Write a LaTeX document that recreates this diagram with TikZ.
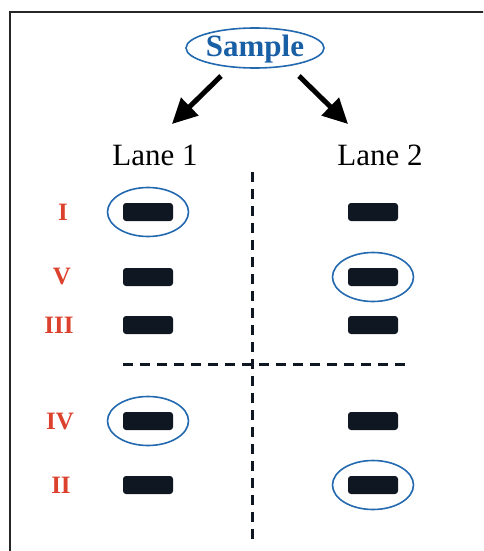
\documentclass[tikz,border=0pt]{standalone}
\usepackage{fontspec}
\setmainfont{Liberation Serif}
\usetikzlibrary{arrows.meta,shapes.geometric}
\definecolor{ringblue}{RGB}{35,105,175}
\definecolor{textblue}{RGB}{25,95,165}
\definecolor{labred}{RGB}{220,65,45}
\definecolor{bandink}{RGB}{15,24,34}
\tikzset{
  band/.style={fill=bandink,rounded corners=3pt,minimum width=50pt,minimum height=18pt,inner sep=0pt},
  ring/.style={draw=ringblue,line width=1.6pt,ellipse,minimum width=81pt,minimum height=49pt,inner sep=0pt},
  roman/.style={text=labred,font=\bfseries\fontsize{25}{25}\selectfont,inner sep=0pt},
  lanelabel/.style={font=\fontsize{31}{31}\selectfont,inner sep=0pt},
  bigarrow/.style={line width=5pt,-{Triangle[length=25pt,width=24pt]}},
  divider/.style={line width=3pt,dash pattern=on 10pt off 7pt,draw=bandink}
}
\begin{document}
\begin{tikzpicture}[x=1pt,y=-1pt]
\useasboundingbox (0,0) rectangle (483,551);
\begin{scope}
\clip (0,0) rectangle (483,551);
\draw[line width=2pt,black!85] (10,560) -- (10,12) -- (500,12);
\end{scope}
% Sample
\node[draw=ringblue,line width=1.6pt,ellipse,minimum width=138pt,minimum height=40pt,inner sep=0pt] (sampring) at (255,48) {};
\node[text=textblue,font=\bfseries\fontsize{31}{31}\selectfont,inner sep=0pt] (sample) at (255,49) {Sample};
% lanes
\node[lanelabel] (lane1) at (155,155) {Lane 1};
\node[lanelabel] (lane2) at (380,155) {Lane 2};
\coordinate (a1s) at (221,76);
\coordinate (a1e) at (172,124);
\coordinate (a2s) at (299,76);
\coordinate (a2e) at (348,124);
\draw[bigarrow] (a1s) -- (a1e);
\draw[bigarrow] (a2s) -- (a2e);
% dividers
\coordinate (vtop) at (252,172);
\coordinate (vbot) at (252,541);
\coordinate (hl) at (123,364);
\coordinate (hr) at (406,364);
\draw[divider] (vtop) -- (vbot);
\draw[divider] (hl) -- (hr);
% roman labels
\node[roman] (rI) at (63,212) {I};
\node[roman] (rV) at (62,277) {V};
\node[roman] (rIII) at (59,325) {III};
\node[roman] (rIV) at (60,421) {IV};
\node[roman] (rII) at (61,485) {II};
% bands lane 1
\node[band] (b1I) at (148,212) {};
\node[band] (b1V) at (148,277) {};
\node[band] (b1III) at (148,325) {};
\node[band] (b1IV) at (148,421) {};
\node[band] (b1II) at (148,485) {};
% bands lane 2
\node[band] (b2I) at (373,212) {};
\node[band] (b2V) at (373,277) {};
\node[band] (b2III) at (373,325) {};
\node[band] (b2IV) at (373,421) {};
\node[band] (b2II) at (373,485) {};
% rings
\node[ring] (c1) at (b1I) {};
\node[ring] (c2) at (b2V) {};
\node[ring] (c3) at (b1IV) {};
\node[ring] (c4) at (b2II) {};
\end{tikzpicture}
\end{document}
